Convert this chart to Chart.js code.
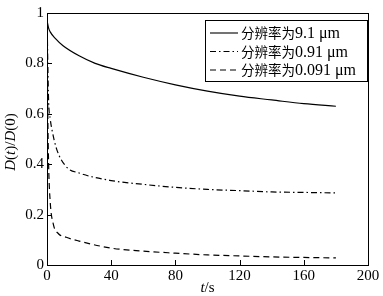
<!DOCTYPE html>
<html>
<head>
<meta charset="utf-8">
<script src="https://cdn.jsdelivr.net/npm/chart.js@4"></script>
<style>
  html, body { margin: 0; padding: 0; background: #fff; }
  #wrap { width: 383px; height: 296px; }
</style>
</head>
<body>
<div id="wrap"><canvas id="chart"></canvas></div>
<script>
// series labels (Chinese part + resolution)
var labelPrefix = '分辨率为';
var resolutions = ['9.1 μm', '0.91 μm', '0.091 μm'];

// t values (s) and D(t)/D(0) for each resolution
var tSolid = [0, 1, 2, 5, 10, 20, 30, 40, 60, 80, 100, 120, 140, 160, 180];
var dSolid = [0.97, 0.94, 0.925, 0.90, 0.87, 0.83, 0.80, 0.78, 0.745, 0.715, 0.69, 0.67, 0.655, 0.64, 0.63];

var tDashDot = [0, 0.5, 1, 2, 3, 6, 12, 20, 40, 60, 80, 100, 120, 140, 160, 180];
var dDashDot = [1.0, 0.8, 0.65, 0.58, 0.54, 0.46, 0.39, 0.365, 0.335, 0.32, 0.308, 0.30, 0.295, 0.29, 0.288, 0.286];

var tDashed = [0, 0.5, 1, 2, 4, 7, 12, 20, 40, 60, 80, 100, 120, 140, 160, 180];
var dDashed = [1.0, 0.6, 0.4, 0.25, 0.16, 0.125, 0.11, 0.095, 0.067, 0.055, 0.047, 0.04, 0.036, 0.032, 0.03, 0.028];

var xTicks = [0, 40, 80, 120, 160, 200];
var yTicks = [0, 0.2, 0.4, 0.6, 0.8, 1];

var dashes = [[], [6, 3, 1.5, 3], [6, 4]];

function toPoints(ts, ds) {
    return ts.map(function (t, i) { return { x: t, y: ds[i] }; });
}

var serif = '"Liberation Serif", "Noto Sans CJK SC", serif';
var cjk = '"Noto Sans CJK SC", sans-serif';

// frame, inward ticks, legend and axis titles
var decorPlugin = {
    id: 'decor',
    afterDraw: function (chart) {
        var ctx = chart.ctx;
        var a = chart.chartArea;
        var xs = chart.scales.x, ys = chart.scales.y;
        ctx.save();
        ctx.strokeStyle = '#000';
        ctx.lineWidth = 1;
        ctx.setLineDash([]);
        ctx.strokeRect(Math.round(a.left) + 0.5, Math.round(a.top) + 0.5,
                       Math.round(a.right - a.left), Math.round(a.bottom - a.top));

        ctx.beginPath();
        xTicks.forEach(function (v) {
            var px = Math.round(xs.getPixelForValue(v)) + 0.5;
            ctx.moveTo(px, a.bottom);
            ctx.lineTo(px, a.bottom - 5);
        });
        yTicks.forEach(function (v) {
            var py = Math.round(ys.getPixelForValue(v)) + 0.5;
            ctx.moveTo(a.left, py);
            ctx.lineTo(a.left + 5, py);
        });
        ctx.stroke();

        // legend
        var bx = 205, by = 20, bw = 162, bh = 61;
        ctx.fillStyle = '#fff';
        ctx.fillRect(bx, by, bw, bh);
        ctx.strokeRect(bx + 0.5, by + 0.5, bw, bh);
        ctx.textBaseline = 'middle';
        ctx.fillStyle = '#000';
        resolutions.forEach(function (res, i) {
            var yy = by + 13 + i * 18.5;
            ctx.beginPath();
            ctx.setLineDash(dashes[i]);
            ctx.lineWidth = 1.1;
            ctx.moveTo(210, yy);
            ctx.lineTo(238, yy);
            ctx.stroke();
            ctx.setLineDash([]);
            ctx.font = '13.5px ' + cjk;
            ctx.fillText(labelPrefix, 241, yy);
            var w = ctx.measureText(labelPrefix).width;
            ctx.font = '16px ' + serif;
            ctx.fillText(res, 241 + w, yy + 1);
        });

        // x title: t/s
        ctx.textBaseline = 'alphabetic';
        var cx = (a.left + a.right) / 2;
        ctx.font = 'italic 15px ' + serif;
        var w1 = ctx.measureText('t').width;
        ctx.font = '15px ' + serif;
        var w2 = ctx.measureText('/s').width;
        var sx = cx - (w1 + w2) / 2;
        ctx.font = 'italic 15px ' + serif;
        ctx.fillText('t', sx, 292);
        ctx.font = '15px ' + serif;
        ctx.fillText('/s', sx + w1, 292);

        // y title: D(t)/D(0)
        var parts = [['D', true], ['(', false], ['t', true], [')/', false], ['D', true], ['(0)', false]];
        var total = 0;
        parts.forEach(function (p) {
            ctx.font = (p[1] ? 'italic ' : '') + '15px ' + serif;
            total += ctx.measureText(p[0]).width;
        });
        ctx.translate(15, 142);
        ctx.rotate(-Math.PI / 2);
        var px0 = -total / 2;
        parts.forEach(function (p) {
            ctx.font = (p[1] ? 'italic ' : '') + '15px ' + serif;
            ctx.fillText(p[0], px0, 0);
            px0 += ctx.measureText(p[0]).width;
        });
        ctx.restore();
    }
};

var ctx = document.getElementById('chart').getContext('2d');
var chart = new Chart(ctx, {
    type: 'line',
    data: {
        datasets: [
            { label: labelPrefix + resolutions[0], data: toPoints(tSolid, dSolid), borderDash: dashes[0] },
            { label: labelPrefix + resolutions[1], data: toPoints(tDashDot, dDashDot), borderDash: dashes[1] },
            { label: labelPrefix + resolutions[2], data: toPoints(tDashed, dDashed), borderDash: dashes[2] }
        ].map(function (d) {
            d.borderColor = '#000';
            d.borderWidth = 1.2;
            d.pointRadius = 0;
            d.fill = false;
            d.cubicInterpolationMode = 'monotone';
            return d;
        })
    },
    options: {
        responsive: true,
        maintainAspectRatio: false,
        animation: false,
        layout: { padding: { left: 0, top: 13, right: 15, bottom: 0 } },
        plugins: { legend: { display: false }, tooltip: { enabled: false } },
        scales: {
            x: {
                type: 'linear',
                min: 0, max: 200,
                grid: { display: false, drawTicks: false },
                border: { display: false },
                ticks: { stepSize: 40, padding: 2, color: '#000', font: { family: serif, size: 15 } },
                afterFit: function (s) { s.height = 31; }
            },
            y: {
                min: 0, max: 1,
                grid: { display: false, drawTicks: false },
                border: { display: false },
                ticks: {
                    stepSize: 0.2, padding: 3, color: '#000', font: { family: serif, size: 15 },
                    callback: function (v) { return String(Math.round(v * 10) / 10); }
                },
                afterFit: function (s) { s.width = 47; }
            }
        }
    },
    plugins: [decorPlugin]
});
</script>
</body>
</html>
